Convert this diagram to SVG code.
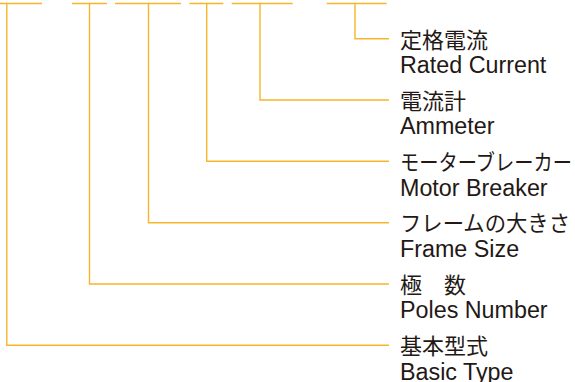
<svg xmlns="http://www.w3.org/2000/svg" width="575" height="382" viewBox="0 0 575 382">
  <style>
    .ln { fill: none; stroke: #F7B52C; stroke-width: 1.4; }
    .jp { font-family: "Noto Sans CJK JP", sans-serif; font-size: 22px; fill: #231815; }
    .en { font-family: "Liberation Sans", Arial, sans-serif; font-size: 23.3px; fill: #231815; }
  </style>
  <rect width="575" height="382" fill="#ffffff"/>
  <g id="code-segments" class="ln">
    <line x1="0" y1="3.5" x2="42" y2="3.5"/>
    <line x1="72" y1="3.5" x2="107" y2="3.5"/>
    <line x1="115" y1="3.5" x2="181" y2="3.5"/>
    <line x1="189.5" y1="3.5" x2="223.3" y2="3.5"/>
    <line x1="231.7" y1="3.5" x2="292.7" y2="3.5"/>
    <line x1="326.7" y1="3.5" x2="386.7" y2="3.5"/>
  </g>
  <g id="connectors" class="ln">
    <polyline points="355,3.5 355,38.7 389,38.7"/>
    <polyline points="260,3.5 260,100 389,100"/>
    <polyline points="206.7,3.5 206.7,161.3 389,161.3"/>
    <polyline points="148.5,3.5 148.5,222.7 389,222.7"/>
    <polyline points="89.5,3.5 89.5,284 389,284"/>
    <polyline points="6.8,3.5 6.8,345.3 389,345.3"/>
  </g>
  <g id="rated-current">
    <text class="jp" x="400" y="47.5">定格電流</text>
    <text class="en" x="400" y="73">Rated Current</text>
  </g>
  <g id="ammeter">
    <text class="jp" x="400" y="108.8">電流計</text>
    <text class="en" x="400" y="134.3">Ammeter</text>
  </g>
  <g id="motor-breaker">
    <text class="jp" x="400" y="170.1" textLength="172" lengthAdjust="spacingAndGlyphs">モーターブレーカー</text>
    <text class="en" x="400" y="195.6">Motor Breaker</text>
  </g>
  <g id="frame-size">
    <text class="jp" x="400" y="231.4" textLength="170" lengthAdjust="spacingAndGlyphs">フレームの大きさ</text>
    <text class="en" x="400" y="256.9">Frame Size</text>
  </g>
  <g id="poles-number">
    <text class="jp" x="400" y="292.7">極　数</text>
    <text class="en" x="400" y="318.2">Poles Number</text>
  </g>
  <g id="basic-type">
    <text class="jp" x="400" y="354">基本型式</text>
    <text class="en" x="400" y="379.5">Basic Type</text>
  </g>
</svg>
